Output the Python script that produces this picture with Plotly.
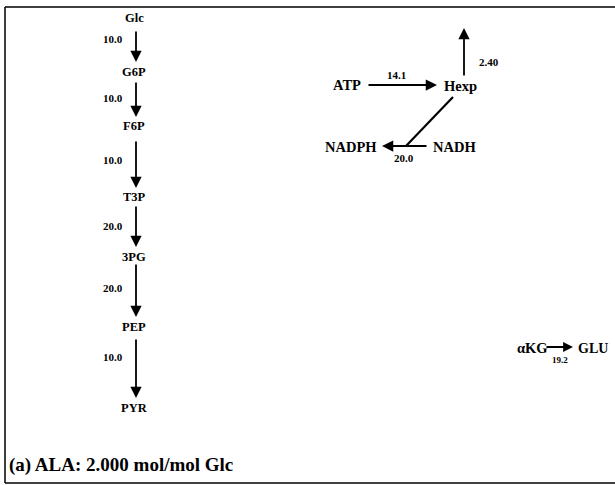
import plotly.graph_objects as go

# Data
glyco_nodes = ["Glc", "G6P", "F6P", "T3P", "3PG", "PEP", "PYR"]
glyco_fluxes = ["10.0", "10.0", "10.0", "20.0", "20.0", "10.0"]
atp_flux = "14.1"
hexp_out_flux = "2.40"
nadh_flux = "20.0"
akg_flux = "19.2"
title_text = "(a) ALA: 2.000 mol/mol Glc"

# Layout positions (pixel-like coordinates)
glyco_x = 134
glyco_y = [18, 72, 126, 197, 257, 327, 408]
arrow_spans = [(30, 62), (81, 117), (140, 188), (205, 247), (263, 317), (338, 398)]
flux_label_y = [39, 98, 160, 226, 288, 357]

FONT = "Liberation Serif"
NODE_L = 12.5
NODE_R = 14.5
FLUX = 11
fig = go.Figure()
fig.add_trace(go.Scatter(x=[0], y=[0], mode="markers", marker=dict(opacity=0), showlegend=False, hoverinfo="skip"))

ann = []
def text(x, y, s, size, xanchor="center"):
    ann.append(dict(x=x, y=y, xref="x", yref="y", text="<b>%s</b>" % s, showarrow=False,
                    font=dict(family=FONT, size=size, color="black"), xanchor=xanchor, yanchor="middle"))

def arrow(x0, y0, x1, y1, w=1.8, size=1.25):
    ann.append(dict(x=x1, y=y1, ax=x0, ay=y0, xref="x", yref="y", axref="x", ayref="y",
                    text="", showarrow=True, arrowhead=2, arrowsize=size, arrowwidth=w,
                    arrowcolor="black", standoff=0, startstandoff=0))

for n, y in zip(glyco_nodes, glyco_y):
    text(glyco_x, y, n, NODE_L)
for f, (a, b), ly in zip(glyco_fluxes, arrow_spans, flux_label_y):
    arrow(glyco_x + 2, a, glyco_x + 2, b)
    text(113, ly, f, FLUX)

# Right pathway
text(347, 85, "ATP", NODE_R)
arrow(367, 85, 437, 85)
text(396, 75, atp_flux, FLUX)
text(460, 86, "Hexp", NODE_R)
arrow(464, 77, 464, 28)
text(489, 62, hexp_out_flux, FLUX)
fig.add_shape(type="line", x0=453, y0=97, x1=406, y1=146, line=dict(color="black", width=2.2))
text(454, 147, "NADH", NODE_R)
arrow(428, 146, 382, 146)
text(351, 147, "NADPH", NODE_R)
text(404, 158, nadh_flux, FLUX)

text(532, 348, "αKG", NODE_R)
arrow(545, 347, 573, 347, 1.8, 1.1)
text(560, 360, akg_flux, 9)
text(593, 348, "GLU", 14)

text(7, 465, title_text, 19, xanchor="left")

# Frame
for x0, y0, x1, y1 in [(5, 7, 615, 7), (5, 7, 5, 483), (5, 483, 615, 483)]:
    fig.add_shape(type="line", x0=x0, y0=y0, x1=x1, y1=y1, line=dict(color="black", width=1.5))

fig.update_layout(
    width=615, height=485, margin=dict(l=0, r=0, t=0, b=0),
    paper_bgcolor="white", plot_bgcolor="white", annotations=ann,
    xaxis=dict(range=[0, 615], visible=False, fixedrange=True),
    yaxis=dict(range=[485, 0], visible=False, fixedrange=True),
    showlegend=False,
)
fig.write_html("out.html", config={"displayModeBar": False},
               post_script="document.body.style.margin='0';document.body.style.overflow='hidden';")
